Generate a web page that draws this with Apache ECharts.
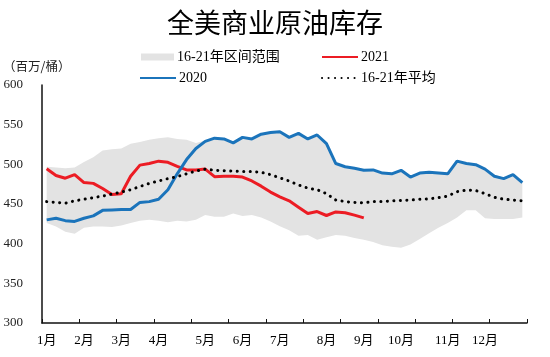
<!DOCTYPE html>
<html>
<head>
<meta charset="utf-8">
<script src="https://cdn.jsdelivr.net/npm/echarts@6/dist/echarts.min.js"></script>
<style>html,body{margin:0;padding:0;background:#fff}#c{width:550px;height:357px}</style>
</head>
<body>
<div id="c"></div>
<script>
// weekly data, 52 weeks
const monthLabels = ['1月','2月','3月','4月','5月','6月','7月','8月','9月','10月','11月','12月'];
const monthLabelWeeks = [0,4,8,12,17,21,25,30,34,38,43,47];

const range16_21Low = [426,421.5,415,412.5,420,421.5,421.5,421,423,426,429,430,429,427,429,428,430,436,434,434,438,435,436,433,428,422,417,410,411,405,408,411,410,407,405,402,398,396,395,399,406,413,420,426,433,442,442,432,431,431,431,433];
const range16_21High = [497,496,495,496,503,509,517.5,519,520,526,528,531,533,534,532,531,527,530,534,533,528,535,533,539,541,542,535,540,533,538,527,502,498,496,494,494,490,489,493,485,490,491,490,489,505,502,500,495,487,483,488,478];
const y2021 = [494.5,486,482.5,487,477,476,469.5,462,463,485,499,501,504,502.5,497.5,493,493,494,484.5,485,485,484,479,472.5,465,459,454,446,438,440.5,435.5,440,439,436,432.5];
const y2020 = [430,432,429,428,432,435,442,442.5,443,443,452,453,456,468,488,506,520,529,533,532,527,534,532,538,540,541,534,539,532,537,526,501,497,495,492.5,493,489,488,492.5,484,489,490,489,488,504,501,499.5,494,485,482,487,477];
const avg16_21 = [453,452,451,454,456,458,460,462.5,465,468,472,476,479,482,484.5,488,491.5,494,492.5,492,491.5,491,491,490,487,483,479,474,470,468,463,455,453,452,451.5,453,453,454,454.5,455,456,456.5,458,460,465.5,467.5,467,463,458.5,456,455,454];

const weeks = range16_21Low.map((_, i) => 'W' + (i + 1));
const bandDiff = range16_21High.map((v, i) => v - range16_21Low[i]);

const serif = "'Liberation Serif','Noto Sans CJK SC',serif";
const chart = echarts.init(document.getElementById('c'), null, {renderer: 'canvas'});

function legendAt(left, top, item, extra) {
  return Object.assign({
    left: left, top: top, padding: 0, itemGap: 0,
    itemWidth: 36, itemHeight: 10,
    itemStyle: {opacity: 0},
    textStyle: {fontSize: 14, color: '#000', fontFamily: serif, padding: [0, 0, 0, -2]},
    data: [item]
  }, extra || {});
}

chart.setOption({
  animation: false,
  backgroundColor: '#fff',
  title: {
    text: '全美商业原油库存', left: 'center', top: 9, padding: 0,
    textStyle: {fontSize: 27, fontWeight: 'normal', color: '#000', fontFamily: "'Noto Sans CJK SC',sans-serif"}
  },
  legend: [
    legendAt(141, 50, {name: '16-21年区间范围', icon: 'rect', itemStyle: {color: '#e3e3e3', opacity: 1}}, {itemWidth: 33, itemHeight: 7}),
    legendAt(321, 50, {name: '2021'}),
    legendAt(139, 71, {name: '2020'}),
    legendAt(321, 71, {name: '16-21年平均'})
  ],
  graphic: [{
    type: 'text', left: 3, top: 60,
    style: {text: '（百万/桶）', fontSize: 12.5, fill: '#222', fontFamily: "'Noto Sans CJK SC',sans-serif"}
  }],
  grid: {left: 42, right: 23, top: 85, bottom: 34},
  xAxis: {
    type: 'category', data: weeks, boundaryGap: true,
    axisLine: {lineStyle: {color: '#111', width: 1.5}},
    axisTick: {show: true, inside: true, length: 4, interval: 3, lineStyle: {color: '#111', width: 1}},
    axisLabel: {
      interval: (idx) => monthLabelWeeks.indexOf(idx) >= 0,
      formatter: (v, idx) => { const k = monthLabelWeeks.indexOf(idx); return k >= 0 ? monthLabels[k] : ''; },
      fontSize: 13, color: '#000', fontFamily: serif, margin: 11
    },
    splitLine: {show: false}
  },
  yAxis: {
    type: 'value', min: 300, max: 600, interval: 50,
    axisLine: {show: true, lineStyle: {color: '#111', width: 1.5}},
    axisTick: {show: false},
    axisLabel: {fontSize: 13, color: '#222', fontFamily: serif, margin: 19},
    splitLine: {show: false}
  },
  series: [
    {name: 'low', type: 'line', stack: 'band', data: range16_21Low, symbol: 'none', silent: true,
     lineStyle: {width: 0, opacity: 0}, z: 1},
    {name: '16-21年区间范围', type: 'line', stack: 'band', data: bandDiff, symbol: 'none', silent: true,
     lineStyle: {width: 0, opacity: 0}, itemStyle: {color: '#e3e3e3'},
     areaStyle: {color: '#e3e3e3', opacity: 1}, z: 1},
    {name: '2021', type: 'line', data: y2021, symbol: 'none', color: '#ec1c24',
     lineStyle: {width: 3, color: '#ec1c24'}, z: 3},
    {name: '2020', type: 'line', data: y2020, symbol: 'none', color: '#1b74bb',
     lineStyle: {width: 3, color: '#1b74bb'}, z: 4},
    {name: '16-21年平均', type: 'line', data: avg16_21, symbol: 'none', color: '#000',
     lineStyle: {width: 3, color: '#000', type: [0.1, 6.4], cap: 'round'}, z: 5}
  ]
});
</script>
</body>
</html>
